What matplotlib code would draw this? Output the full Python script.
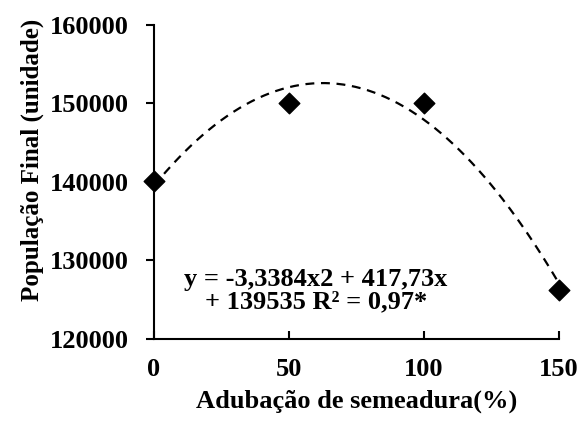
import numpy as np
import matplotlib
matplotlib.use("Agg")
import matplotlib.pyplot as plt

# adubação de semeadura (%) vs população final
adubacao = [0, 50, 100, 150]
populacao = [140100, 150000, 150000, 126300]

# coeficientes da regressão quadrática
a, b, c = -3.3384, 417.73, 139535

plt.rcParams['font.family'] = ['Liberation Serif', 'DejaVu Serif']
plt.rcParams['font.weight'] = 'bold'

fig = plt.figure(figsize=(5.81, 4.23), dpi=100)
ax = fig.add_axes([154 / 581, 1 - 339 / 423, (559 - 154) / 581, (339 - 25) / 423])

xs = np.linspace(0, 150, 200)
ax.plot(xs, a * xs**2 + b * xs + c, '--', color='black', lw=1.6, dashes=(4, 3), zorder=2)
ax.scatter(adubacao, populacao, marker='D', s=110, color='black', zorder=3, clip_on=False)

ax.set_xlim(0, 150)
ax.set_ylim(120000, 160000)
ax.set_xticks([0, 50, 100, 150])
ax.set_yticks([120000, 130000, 140000, 150000, 160000])

for s in ['top', 'right']:
    ax.spines[s].set_visible(False)
for s in ['left', 'bottom']:
    ax.spines[s].set_linewidth(1.5)

ax.tick_params(axis='x', direction='in', length=6, width=1.5, labelsize=19, pad=14)
ax.tick_params(axis='y', direction='out', length=6, width=1.5, labelsize=19, pad=12)
for lab in ax.get_xticklabels() + ax.get_yticklabels():
    lab.set_fontweight('bold')

ax.set_xlabel('Adubação de semeadura(%)', fontsize=19, fontweight='bold', labelpad=6)
ax.set_ylabel('População Final (unidade)', fontsize=18, fontweight='bold', labelpad=5)
ax.yaxis.set_label_coords(-0.272, 0.57)

ax.text(60, 126150, 'y = -3,3384x2 + 417,73x\n+ 139535 R² = 0,97*', fontsize=19,
        fontweight='bold', ha='center', va='center', linespacing=1.0)

plt.savefig('out.png', dpi=100)
